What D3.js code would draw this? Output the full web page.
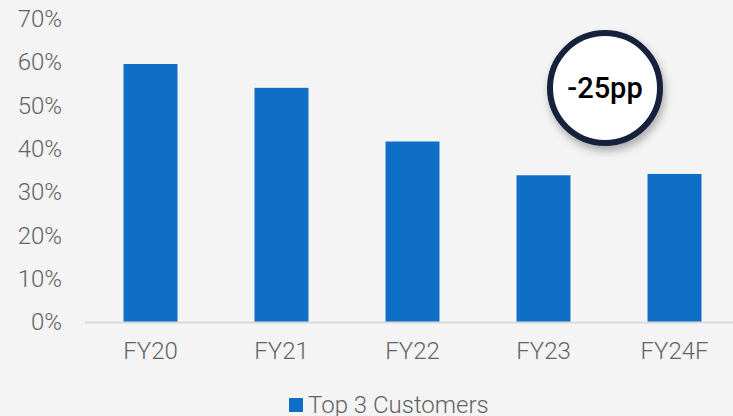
<!doctype html>
<html>
  <head>
    <meta charset="utf8">
    <script src="https://d3js.org/d3.v7.min.js"></script>
    <style type="text/css">
      body { margin: 0; background: #f4f4f4; font-family: 'Roboto', sans-serif; }
      svg { display: block; }
    </style>
  </head>
  <body>
    <script type="text/javascript">
      const w = 733;
      const h = 416;

      // values
      const categories = ['FY20', 'FY21', 'FY22', 'FY23', 'FY24F'];
      const shares = [59.6, 54.1, 41.7, 33.9, 34.2];
      const yTicks = [0, 10, 20, 30, 40, 50, 60, 70];
      const seriesName = 'Top 3 Customers';
      const callout = '-25pp';

      const barColor = '#0f6fc6';
      const labelColor = '#636363';

      const xScale = d3.scaleBand()
        .domain(categories)
        .range([85, 740])
        .paddingInner(0.588)
        .paddingOuter(0.294);

      const yScale = d3.scaleLinear()
        .domain([0, 70])
        .range([322, 19]);

      const svg = d3.select('body')
        .append('svg')
        .attr('width', w)
        .attr('height', h);

      const defs = svg.append('defs');
      defs.append('filter')
        .attr('id', 'shadow')
        .attr('x', '-30%').attr('y', '-30%')
        .attr('width', '160%').attr('height', '160%')
        .append('feDropShadow')
        .attr('dx', 2).attr('dy', 5)
        .attr('stdDeviation', 4)
        .attr('flood-color', '#000')
        .attr('flood-opacity', 0.3);

      // y axis labels (no line, no ticks)
      const yAxis = svg.append('g')
        .attr('transform', 'translate(62,0)')
        .call(d3.axisLeft(yScale).tickValues(yTicks).tickSize(0).tickPadding(0).tickFormat((d) => d + '%'));
      yAxis.select('.domain').remove();
      yAxis.selectAll('text')
        .attr('font-family', 'Roboto, sans-serif')
        .attr('font-size', '24px')
        .attr('font-weight', 300)
        .attr('fill', labelColor);

      // bars
      svg.selectAll('rect.bar')
        .data(shares)
        .enter()
        .append('rect')
        .attr('class', 'bar')
        .attr('x', (d, i) => xScale(categories[i]))
        .attr('y', (d) => yScale(d))
        .attr('width', xScale.bandwidth())
        .attr('height', (d) => yScale(0) - yScale(d))
        .attr('fill', barColor);

      // x axis
      const xAxis = svg.append('g')
        .attr('transform', 'translate(0,' + yScale(0) + ')')
        .call(d3.axisBottom(xScale).tickSize(0).tickPadding(20).tickSizeOuter(0));
      xAxis.select('.domain')
        .attr('d', 'M85,0.5H733')
        .attr('stroke', '#d9d9d9')
        .attr('stroke-width', 2);
      xAxis.selectAll('text')
        .attr('font-family', 'Roboto, sans-serif')
        .attr('font-size', '24px')
        .attr('font-weight', 300)
        .attr('fill', labelColor);

      // callout bubble
      const bubble = svg.append('g').attr('transform', 'translate(605,88)');
      bubble.append('circle')
        .attr('r', 55)
        .attr('fill', '#ffffff')
        .attr('stroke', '#14233a')
        .attr('stroke-width', 6)
        .attr('filter', 'url(#shadow)');
      bubble.append('text')
        .attr('text-anchor', 'middle')
        .attr('dy', '0.36em')
        .attr('font-family', 'Roboto, sans-serif')
        .attr('font-size', '29px')
        .attr('font-weight', 500)
        .attr('fill', '#000')
        .text(callout);

      // legend
      const legend = svg.append('g').attr('transform', 'translate(289,398)');
      legend.append('rect')
        .attr('width', 14).attr('height', 14)
        .attr('fill', barColor);
      legend.append('text')
        .attr('x', 19).attr('y', 15)
        .attr('font-family', 'Roboto, sans-serif')
        .attr('font-size', '24px')
        .attr('font-weight', 300)
        .attr('fill', labelColor)
        .text(seriesName);
    </script>
  </body>
</html>
